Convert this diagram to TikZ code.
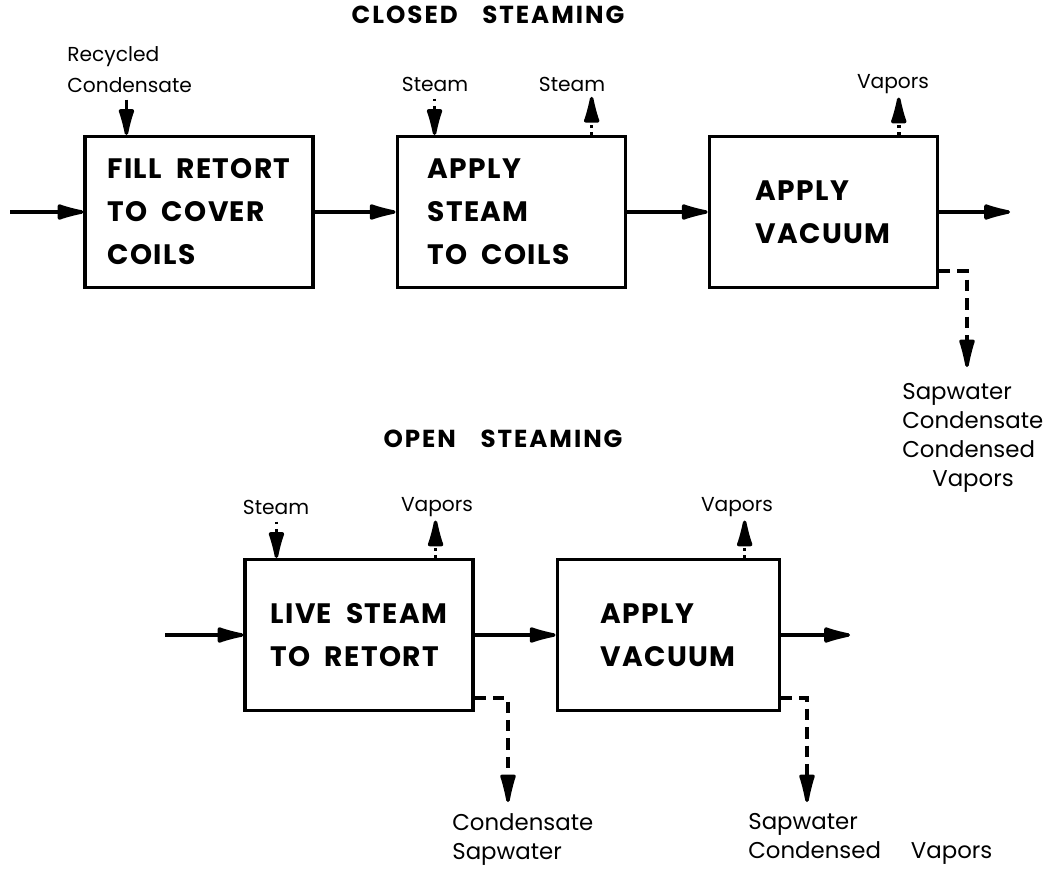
\documentclass[tikz,border=0pt]{standalone}
\usepackage{fontspec}
\setmainfont{Poppins}
\usetikzlibrary{arrows.meta, positioning}

\begin{document}
\begin{tikzpicture}[
        x=0.02cm, y=-0.02cm,
        node distance=1.62cm,
        block/.style={
            rectangle,
            draw,
            line width=1.8pt,
            minimum width=4.56cm,
            minimum height=3.02cm,
            align=left,
            font=\fontsize{16}{24.5}\selectfont\bfseries\addfontfeatures{LetterSpace=5}
        },
        heading/.style={font=\fontsize{14}{16}\selectfont\bfseries\addfontfeatures{LetterSpace=8}},
        tag/.style={inner sep=0pt, font=\fontsize{11.5}{17.5}\selectfont},
        outtag/.style={inner sep=0pt, align=left, font=\fontsize{13}{16.5}\selectfont},
        line/.style={draw, -{Latex[length=7mm, width=3.4mm, round]}, line width=2pt},
        steam/.style={line, dash pattern=on 1.6pt off 2.6pt},
        drain/.style={line, -{Latex[length=7.5mm, width=3.4mm, round]}, dash pattern=on 6.5pt off 4pt}
    ]
        \useasboundingbox (0,0) rectangle (1056,873);

        % closed steaming
        \node [heading] (closed) at (488,15) {CLOSED\quad STEAMING};
        \node [block] (fill) at (199,212) {FILL\enspace RETORT\\TO\enspace COVER\\COILS};
        \node [block, right=of fill] (coils) {APPLY\\STEAM\\TO\enspace COILS\hspace*{0.5cm}};
        \node [block, right=of coils] (vacA) {APPLY\\VACUUM};

        % open steaming
        \node [heading] (open) at (503,439) {OPEN\quad STEAMING};
        \node [block] (live) at (359,635) {LIVE\enspace STEAM\\TO\enspace RETORT};
        \node [block, minimum width=4.44cm, right=of live] (vacB) {APPLY\\VACUUM};

        % stream labels
        \node [tag, align=left, anchor=north west] (recyc) at (67,46) {Recycled\\Condensate};
        \node [tag] (stA) at (435,84) {Steam};
        \node [tag] (stB) at (572,84) {Steam};
        \node [tag] (vpA) at (893,84) {Vapors};
        \node [tag] (stC) at (276,507) {Steam};
        \node [tag] (vpB) at (437,507) {Vapors};
        \node [tag] (vpC) at (737,507) {Vapors};
        \node [outtag, anchor=north west] (sapA) at (902,383) {Sapwater\\Condensate\\Condensed\\\hspace*{0.6cm}Vapors};
        \node [outtag, anchor=north west] (sapB) at (452,813) {Condensate\\Sapwater};
        \node [outtag, anchor=north west] (sapC) at (748,813) {Sapwater\\Condensed\hspace{0.6cm}Vapors};

        % ends
        \coordinate (inA) at (10,212);
        \coordinate (outA) at (1010,212);
        \coordinate (inB) at (165,635);
        \coordinate (outB) at (850,635);
        \coordinate (rcin) at ([xshift=.86cm]fill.north west);
        \coordinate (sin) at ([xshift=.78cm]coils.north west);
        \coordinate (sout) at ([xshift=-.70cm]coils.north east);
        \coordinate (vout) at ([xshift=-.80cm]vacA.north east);
        \coordinate (lsin) at ([xshift=.66cm]live.north west);
        \coordinate (lvout) at ([xshift=-.78cm]live.north east);
        \coordinate (bvout) at ([xshift=-.72cm]vacB.north east);
        \coordinate (dA) at (967,367);
        \coordinate (dB) at (508,802);
        \coordinate (dC) at (807,802);

        % paths
        \path [line] (inA) -- (fill);
        \path [line] (fill) -- (coils);
        \path [line] (coils) -- (vacA);
        \path [line] (vacA) -- (outA);
        \path [line] (inB) -- (live);
        \path [line] (live) -- (vacB);
        \path [line] (vacB) -- (outB);

        \path [line, shorten <=4pt] (recyc.south -| rcin) -- (rcin);
        \path [steam, shorten <=4pt] (stA.south -| sin) -- (sin);
        \path [steam, shorten >=3pt] (sout) -- (stB.south -| sout);
        \path [steam, shorten >=2pt] (vout) -- (vpA.south -| vout);
        \path [steam, shorten <=4pt] (stC.south -| lsin) -- (lsin);
        \path [steam, shorten >=2pt] (lvout) -- (vpB.south -| lvout);
        \path [steam, shorten >=2pt] (bvout) -- (vpC.south -| bvout);

        \path [drain] ([yshift=.36cm]vacA.south east) -| (dA);
        \path [drain] ([yshift=.28cm]live.south east) -| (dB);
        \path [drain] ([yshift=.28cm]vacB.south east) -| (dC);
    \end{tikzpicture}
\end{document}
